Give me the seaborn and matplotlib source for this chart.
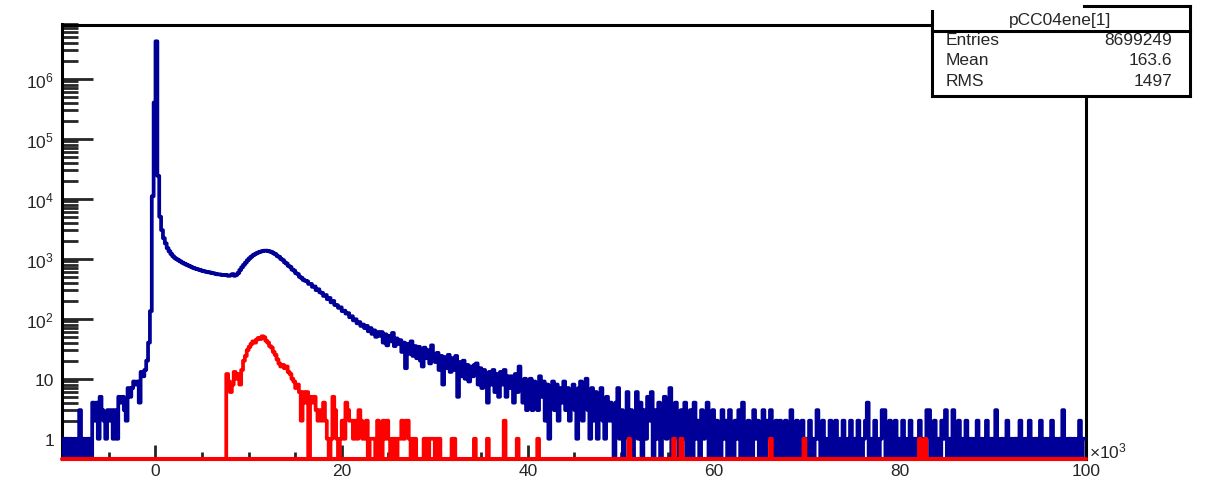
import numpy as np
import pandas as pd
import matplotlib
matplotlib.use("Agg")
import matplotlib.pyplot as plt
from matplotlib.lines import Line2D
from matplotlib.patches import Rectangle
from matplotlib.ticker import FixedLocator, FixedFormatter, LogLocator, NullFormatter, MultipleLocator
import seaborn as sns

# ---------------------------------------------------------------- data
# energy axis in units of 10^3, uniform binning
BIN_LO = -10.2
BIN_WIDTH = 0.2

# all entries (blue), one count per bin starting at BIN_LO
blue_counts = [
    # -10.2 .. 0
    1, 0, 1, 1, 0, 1, 0, 1, 0, 1,
    3,
    0, 1, 0, 1, 1, 0,
    4, 2, 4, 1, 5, 3, 2, 1, 3, 2, 3, 1, 3, 1, 5, 4, 5, 3, 2, 7, 5,
    7, 9, 8, 9, 4, 13, 11, 14, 20, 40, 134, 11000, 400000,
    # pedestal peak
    4200000,
    # 0.2 .. 1.0
    24000, 5000, 3000, 2200,
    # 1.0 .. 16.2
    1800, 1500, 1330, 1200, 1100, 1030, 980, 940, 900, 860,
    830, 800, 775, 750, 725, 700, 685, 670, 655, 640,
    625, 615, 605, 595, 590, 575, 570, 560, 550, 548,
    540, 535, 538, 528, 520, 530, 555, 520, 540, 580,
    650, 720, 790, 860, 940, 1010, 1080, 1140, 1190, 1240,
    1280, 1310, 1340, 1360, 1365, 1350, 1320, 1290, 1230, 1190,
    1110, 1070, 990, 950, 870, 830, 760, 730, 660, 635,
    575, 555, 500, 480, 445, 430,
    # 16.2 .. 24.2
    420, 380, 380, 340, 345, 300, 310, 275, 270, 240,
    248, 212, 222, 188, 198, 170, 168, 152, 155, 134,
    136, 122, 124, 106, 110, 94, 98, 84, 88, 76,
    80, 70, 76, 62, 70, 56, 64, 50, 60, 52,
    # 24.2 .. 48.2
    60, 40, 55, 36, 52, 42, 58, 35, 47, 38,
    44, 28, 40, 15, 38, 26, 42, 24, 35, 22,
    34, 20, 16, 33, 22, 30, 18, 36, 21, 19,
    27, 14, 24, 8, 23, 15, 25, 13, 22, 14,
    24, 5, 19, 11, 20, 10, 17, 9, 16, 11,
    17, 18, 8, 15, 7, 14, 10, 4, 13, 8,
    14, 6, 12, 5, 13, 8, 14, 5, 11, 7,
    11, 4, 12, 6, 16, 8, 4, 10, 3, 9,
    10, 3, 9, 6, 3, 11, 5, 9, 2, 8,
    1, 7, 9, 3, 8, 2, 7, 4, 9, 3,
    7, 2, 6, 8, 3, 1, 7, 9, 2, 5,
    10, 3, 1, 7, 2, 6, 1, 4, 7, 2,
    # 48.2 .. 49.0
    1, 5, 2, 4,
    # 49.0 .. 100.0
    2, 0, 4, 7, 1, 3, 0, 2, 6, 1,
    3, 0, 2, 6, 1, 4, 0, 3, 1, 5,
    2, 6, 0, 3, 1, 4, 0, 2, 5, 1,
    3, 7, 0, 2, 4, 1, 0, 3, 1, 4,
    0, 2, 3, 0, 4, 1, 2, 0, 3, 1,
    2, 4, 0, 1, 3, 0, 2, 1, 0, 3,
    1, 2, 0, 3, 1, 0, 2, 1, 3, 0,
    4, 1, 0, 2, 1, 0, 3, 1, 2, 0,
    1, 3, 0, 2, 1, 3, 0, 1, 2, 0,
    2, 1, 0, 2, 0, 1, 3, 0, 1, 2,
    0, 1, 2, 0, 1, 0, 2, 1, 0, 1,
    3, 1, 0, 2, 1, 0, 1, 2, 0, 1,
    2, 0, 1, 0, 2, 1, 0, 1, 2, 0,
    1, 0, 2, 1, 0, 1, 2, 4, 0, 1,
    0, 2, 1, 0, 1, 3, 3, 0, 1, 2,
    0, 1, 2, 0, 1, 0, 2, 1, 0, 1,
    2, 0, 1, 1, 0, 2, 1, 0, 1, 3,
    3, 0, 1, 2, 0, 1, 0, 2, 1, 3,
    0, 1, 0, 3, 1, 0, 2, 1, 0, 1,
    2, 0, 1, 1, 0, 1, 2, 0, 1, 0,
    1, 2, 0, 1, 1, 0, 3, 1, 0, 1,
    0, 1, 2, 0, 1, 0, 1, 1, 0, 2,
    1, 0, 1, 0, 2, 1, 0, 1, 1, 0,
    2, 1, 0, 1, 0, 1, 2, 0, 1, 0,
    1, 0, 3, 1, 0, 1, 1, 0, 1, 0,
    1, 2, 0, 1, 1,
]

# selected entries (red): contiguous block starting at RED_CORE_LO ...
RED_CORE_LO = 7.6
red_core_counts = [
    12, 9, 6, 8, 13, 10, 12, 8, 14, 20,
    24, 30, 34, 38, 42, 40, 45, 48, 46, 51,
    49, 43, 40, 35, 33, 28, 25, 21, 18, 16,
    17, 15, 16, 13, 12, 10, 9, 7, 8, 6,
    2, 6, 4, 6, 0, 5, 4, 5, 3, 2,
    3, 2, 4, 2, 1, 0, 1, 5, 3, 1,
    0, 1, 2, 1, 4, 3, 2, 2, 1, 2,
    1, 3, 2, 1, 1, 2, 0, 1, 1, 1,
    0, 2, 1, 0, 2, 1, 2, 1, 0, 1,
    1, 0, 1, 1, 2, 1, 2, 2, 1, 0,
    1, 1, 0, 0, 0, 0, 1, 1, 0, 1,
    1, 1, 0, 1, 1, 0, 0, 0, 0, 0,
    0, 1, 1,
]
# ... plus isolated entries further out
red_tail_energy = [34.3, 35.7, 37.5, 38.9, 41.1, 50.9, 55.7, 56.5, 66.1, 69.7, 82.1, 82.7]
red_tail_counts = [1, 1, 2, 1, 1, 1, 1, 1, 1, 1, 1, 1]

X_RANGE = (-10, 100)
Y_RANGE = (0.46, 8.0e6)
Y_MAJOR = [1, 10, 1e2, 1e3, 1e4, 1e5, 1e6]
Y_LABELS = ["1", "10", r"$\mathregular{10^{2}}$", r"$\mathregular{10^{3}}$",
            r"$\mathregular{10^{4}}$", r"$\mathregular{10^{5}}$", r"$\mathregular{10^{6}}$"]

STATS_TITLE = "pCC04ene[1]"
STATS_ROWS = [("Entries", "8699249"), ("Mean", "163.6"), ("RMS", "1497")]

BLUE = "#000099"
RED = "#ff0000"

# ---------------------------------------------------------------- style
sns.set_style("ticks")
plt.rcParams["font.family"] = ["Liberation Sans", "DejaVu Sans"]
plt.rcParams["mathtext.fontset"] = "custom"
plt.rcParams["mathtext.rm"] = "Liberation Sans"
plt.rcParams["mathtext.it"] = "Liberation Sans:italic"
plt.rcParams["mathtext.bf"] = "Liberation Sans:bold"

W, H = 1206, 481
fig = plt.figure(figsize=(W / 100, H / 100), dpi=100)
fig.patch.set_facecolor("white")

ax_l, ax_r, ax_t, ax_b = 62.4, 1086.5, 25.5, 460.0
ax = fig.add_axes([ax_l / W, 1 - ax_b / H, (ax_r - ax_l) / W, (ax_b - ax_t) / H])
ax.set_facecolor("white")

# ---------------------------------------------------------------- histograms
edges = BIN_LO + BIN_WIDTH * np.arange(len(blue_counts) + 1)
centers = edges[:-1] + BIN_WIDTH / 2
bin_edges = edges.tolist()

blue_df = pd.DataFrame({"energy": centers, "entries": blue_counts})

red_core_x = RED_CORE_LO + BIN_WIDTH * (np.arange(len(red_core_counts)) + 0.5)
red_df = pd.DataFrame({
    "energy": np.concatenate([red_core_x, red_tail_energy]),
    "entries": np.concatenate([red_core_counts, red_tail_counts]),
})

LW = 2.7
sns.histplot(data=blue_df, x="energy", weights="entries", bins=bin_edges,
             element="step", fill=False, color=BLUE, linewidth=LW, ax=ax, zorder=3)
sns.histplot(data=red_df, x="energy", weights="entries", bins=bin_edges,
             element="step", fill=False, color=RED, linewidth=LW, ax=ax, zorder=4)

ax.set_yscale("log")
ax.set_xlim(*X_RANGE)
ax.set_ylim(*Y_RANGE)
ax.set_xlabel("")
ax.set_ylabel("")

# empty bins of the red histogram sit on the lower frame edge
ax.axhline(Y_RANGE[0], color=RED, linewidth=2.9, clip_on=False, zorder=5)

# ---------------------------------------------------------------- axes
for side in ("left", "top", "right", "bottom"):
    ax.spines[side].set_visible(True)
    ax.spines[side].set_color("black")
    ax.spines[side].set_linewidth(2.2)

ax.yaxis.set_major_locator(FixedLocator(Y_MAJOR))
ax.yaxis.set_major_formatter(FixedFormatter(Y_LABELS))
ax.yaxis.set_minor_locator(LogLocator(base=10, subs=np.arange(2, 10), numticks=20))
ax.yaxis.set_minor_formatter(NullFormatter())

ax.xaxis.set_major_locator(MultipleLocator(20))
ax.xaxis.set_minor_locator(MultipleLocator(5))

ax.tick_params(axis="y", which="major", direction="in", length=22, width=2.0,
               labelsize=12.5, pad=6, left=True, right=False)
ax.tick_params(axis="y", which="minor", direction="in", length=11.5, width=2.0,
               left=True, right=False)
ax.tick_params(axis="x", which="major", direction="in", length=10, width=2.0,
               labelsize=12.5, pad=3, bottom=True, top=False)
ax.tick_params(axis="x", which="minor", direction="in", length=5, width=2.0,
               bottom=True, top=False)

fig.text(1089 / W, 1 - 451 / H, r"$\mathregular{\times10^{3}}$", fontsize=12.5,
         ha="left", va="center")

# ---------------------------------------------------------------- stats box
def fx(px):
    return px / W


def fy(py):
    return 1 - py / H


bx0, bx1, by0, by1, bsep = 932, 1190, 7, 97, 31.5
fig.add_artist(Rectangle((fx(bx0), fy(by1)), fx(bx1) - fx(bx0), fy(by0) - fy(by1),
                         transform=fig.transFigure, facecolor="white",
                         edgecolor="none", zorder=10))
box_lines = [
    ([bx0, bx0], [12, by1]),
    ([1084, bx1], [by0, by0]),
    ([bx1, bx1], [by0, by1]),
    ([bx0, bx1], [bsep, bsep]),
    ([bx0, bx1], [by1, by1]),
]
for xs, ys in box_lines:
    fig.add_artist(Line2D([fx(v) for v in xs], [fy(v) for v in ys],
                          transform=fig.transFigure, color="black",
                          linewidth=2.2, solid_capstyle="projecting", zorder=11))

fig.text(fx(1060), fy(20), STATS_TITLE, fontsize=12.5, ha="center", va="center", zorder=12)
for (name, value), ry in zip(STATS_ROWS, [41, 61, 82]):
    fig.text(fx(946), fy(ry), name, fontsize=12.5, ha="left", va="center", zorder=12)
    fig.text(fx(1172), fy(ry), value, fontsize=12.5, ha="right", va="center", zorder=12)

fig.savefig("out.png", dpi=100, facecolor="white")
